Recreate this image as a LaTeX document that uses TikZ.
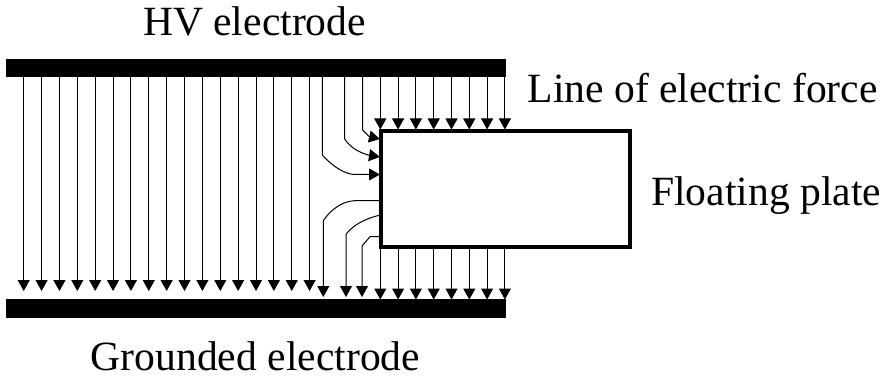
\documentclass[tikz,border=0pt]{standalone}
\usepackage{fontspec}
\setmainfont{Liberation Serif}
\usetikzlibrary{arrows.meta}
\tikzset{
  fieldline/.style={line width=1pt,-{Triangle[length=11pt,width=12pt]}},
  electrode/.style={fill=black},
  lab/.style={inner sep=0pt,anchor=base,font=\fontsize{41.6}{44}\selectfont}
}
\begin{document}
\begin{tikzpicture}[x=1pt,y=-1pt]
    	\useasboundingbox (0,0) rectangle (889,377);
    	\fill[electrode] (5.5,59) rectangle (506,77.5);
    	\fill[electrode] (5.5,299) rectangle (505.5,318);
    	\draw[line width=4pt,fill=white] (380.8,131) rectangle (629.5,246.8);

    	% straight lines between the electrodes
    	\foreach \x in {23.7,41.57,...,312}
    		\draw[fieldline] (\x,77) -- (\x,291);

    	% lines on the top and bottom of the plate
    	\foreach \x in {380.3,398.1,...,507}{
    		\draw[fieldline] (\x,77) -- (\x,129.5);
    		\draw[fieldline] (\x,248) -- (\x,299.5);
    	}

    	% bent lines into the plate
    	\draw[fieldline] (362.7,77) -- (362.7,130) -- (369,136.5) -- (380,139);
    	\draw[fieldline] (344.7,77) -- (344.7,139) .. controls (350,147) and (358,152) .. (368,155) -- (380,157);
    	\draw[fieldline] (322.3,77) -- (322.3,155) .. controls (332,166) and (345,174.5) .. (355,174.5) -- (380,174.5);

    	% bent lines out of the plate
    	\draw[fieldline] (379,200.7) -- (355,200.7) .. controls (343,201) and (331,209) .. (323.3,220.7) -- (323.3,297);
    	\draw[fieldline] (379,215.3) .. controls (364,219) and (352,226) .. (346,234.3) -- (346,297);
    	\draw[fieldline] (379,236.7) -- (370,236.7) -- (362,246) -- (362,297);

    	\node[lab] (hvlabel) at (254.5,36) {HV electrode};
    	\node[lab] (gndlabel) at (255.5,370.7) {Grounded electrode};
    	\node[lab,anchor=base west] (linelabel) at (527.5,103) {Line of electric force};
    	\node[lab,anchor=base west] (platelabel) at (651,205.7) {Floating plate};
\end{tikzpicture}
\end{document}
